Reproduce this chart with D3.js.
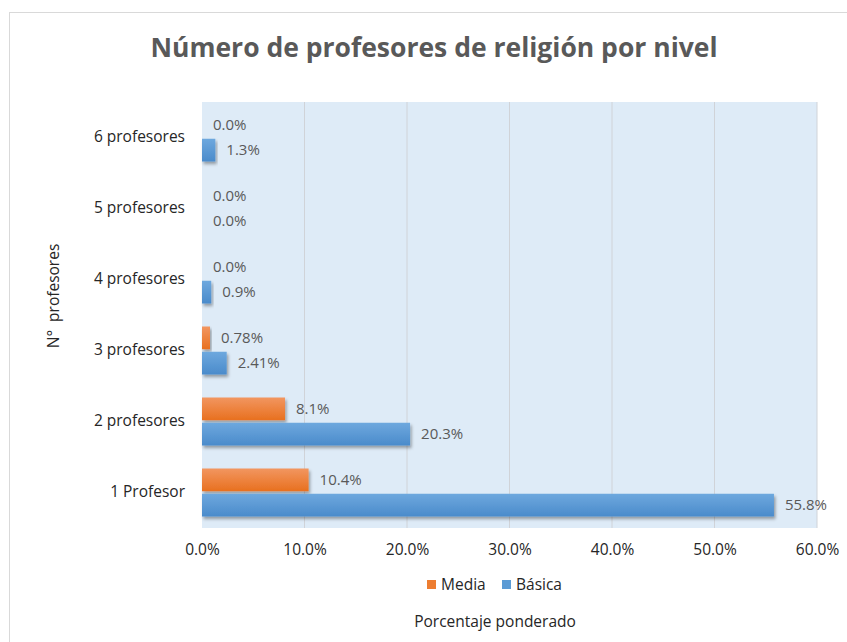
<!DOCTYPE html>
<html>
<head>
<meta charset="utf-8">
<script src="https://cdn.jsdelivr.net/npm/d3@7"></script>
<style>
  body { margin: 0; background: #fff; }
  text { font-family: "Open Sans", sans-serif; }
</style>
</head>
<body>
<svg width="847" height="642"></svg>
<script>
// data
let categories = ["1 Profesor", "2 profesores", "3 profesores", "4 profesores", "5 profesores", "6 profesores"];
let series = ["Media", "Básica"];
let media = [10.4, 8.1, 0.78, 0, 0, 0];
let basica = [55.8, 20.3, 2.41, 0.9, 0, 1.3];
let mediaLabels = ["10.4%", "8.1%", "0.78%", "0.0%", "0.0%", "0.0%"];
let basicaLabels = ["55.8%", "20.3%", "2.41%", "0.9%", "0.0%", "1.3%"];
let xTicks = [0, 10, 20, 30, 40, 50, 60];

let margin = {top: 102, right: 30, bottom: 114, left: 202},
    width = 847 - margin.left - margin.right,
    height = 642 - margin.top - margin.bottom;

let svg = d3.select("svg");
let defs = svg.append("defs");

function grad(id, c1, c2) {
    let g = defs.append("linearGradient").attr("id", id)
        .attr("x1", 0).attr("y1", 0).attr("x2", 0).attr("y2", 1);
    g.append("stop").attr("offset", "0%").attr("stop-color", c1);
    g.append("stop").attr("offset", "100%").attr("stop-color", c2);
}
grad("gOrange", "#f29660", "#e8701f");
grad("gBlue", "#6ea8de", "#4a8bcb");

let shadow = defs.append("filter").attr("id", "shadow")
    .attr("x", "-10%").attr("y", "-30%").attr("width", "130%").attr("height", "180%");
shadow.append("feDropShadow").attr("dx", 1.5).attr("dy", 2.5)
    .attr("stdDeviation", 1.5).attr("flood-color", "#000").attr("flood-opacity", 0.35);

// chart frame
svg.append("rect").attr("x", 9.5).attr("y", 12.5).attr("width", 860).attr("height", 660)
    .attr("fill", "#fff").attr("stroke", "#d9d9d9");

let g = svg.append("g").attr("transform", "translate(" + margin.left + "," + margin.top + ")");

let x = d3.scaleLinear().domain([0, 60]).range([0, width]);
let y = d3.scaleBand().domain(categories.slice().reverse()).range([0, height]);
let inner = d3.scaleBand().domain(series).range([y.bandwidth() / 2 - 24, y.bandwidth() / 2 + 24]).paddingInner(0.1);

g.append("rect").attr("width", width).attr("height", height).attr("fill", "#deebf7");

g.selectAll(".grid").data(xTicks.slice(1)).enter().append("line")
    .attr("x1", function(d) { return x(d); }).attr("x2", function(d) { return x(d); })
    .attr("y1", 0).attr("y2", height)
    .attr("stroke", "#d0d3d8").attr("stroke-width", 1);

let rows = categories.map(function(c, i) {
    return {cat: c, vals: [
        {s: "Media", v: media[i], label: mediaLabels[i]},
        {s: "Básica", v: basica[i], label: basicaLabels[i]}
    ]};
});

let groups = g.selectAll(".row").data(rows).enter().append("g")
    .attr("transform", function(d) { return "translate(0," + y(d.cat) + ")"; });

groups.selectAll("rect").data(function(d) { return d.vals.filter(function(e) { return e.v > 0; }); })
    .enter().append("rect")
    .attr("x", 0)
    .attr("y", function(d) { return inner(d.s); })
    .attr("width", function(d) { return x(d.v); })
    .attr("height", inner.bandwidth())
    .attr("fill", function(d) { return d.s == "Media" ? "url(#gOrange)" : "url(#gBlue)"; })
    .attr("filter", "url(#shadow)");

groups.selectAll("text").data(function(d) { return d.vals; })
    .enter().append("text")
    .attr("x", function(d) { return x(d.v) + 11; })
    .attr("y", function(d) { return inner(d.s) + inner.bandwidth() / 2; })
    .attr("dy", "0.35em")
    .style("font-size", "15px")
    .style("fill", "#595959")
    .text(function(d) { return d.label; });

// y axis labels
let yAxis = g.append("g").call(d3.axisLeft(y).tickSize(0).tickPadding(17));
yAxis.select(".domain").remove();
yAxis.selectAll("text").style("font-size", "15.5px").style("fill", "#262626")
    .style("font-family", "'Open Sans', sans-serif");

// x axis labels
let xAxis = g.append("g").attr("transform", "translate(0," + height + ")")
    .call(d3.axisBottom(x).tickValues(xTicks).tickSize(0).tickPadding(16)
        .tickFormat(function(d) { return d.toFixed(1) + "%"; }));
xAxis.select(".domain").remove();
xAxis.selectAll("text").style("font-size", "15.5px").style("fill", "#262626")
    .style("font-family", "'Open Sans', sans-serif");

// title
svg.append("text").attr("x", 434).attr("y", 57)
    .style("text-anchor", "middle").style("font-size", "26.5px").style("font-weight", "bold")
    .style("fill", "#595959")
    .text("Número de profesores de religión por nivel");

// axis titles
svg.append("text")
    .attr("transform", "translate(59,296) rotate(-90)")
    .attr("xml:space", "preserve").style("white-space", "pre")
    .style("text-anchor", "middle").style("font-size", "15.5px").style("fill", "#262626")
    .text("N°  profesores");

svg.append("text").attr("x", 495).attr("y", 627)
    .style("text-anchor", "middle").style("font-size", "15.5px").style("fill", "#262626")
    .text("Porcentaje ponderado");

// legend
let legendColors = ["#ed7d31", "#5b9bd5"];
let legendX = [427, 502];
let legend = svg.selectAll(".legend").data(series).enter().append("g")
    .attr("transform", function(d, i) { return "translate(" + legendX[i] + ",580)"; });
legend.append("rect").attr("width", 9).attr("height", 9)
    .attr("fill", function(d, i) { return legendColors[i]; });
legend.append("text").attr("x", 14).attr("y", 4.5).attr("dy", "0.35em")
    .style("font-size", "15.5px").style("fill", "#262626")
    .text(function(d) { return d; });
</script>
</body>
</html>
